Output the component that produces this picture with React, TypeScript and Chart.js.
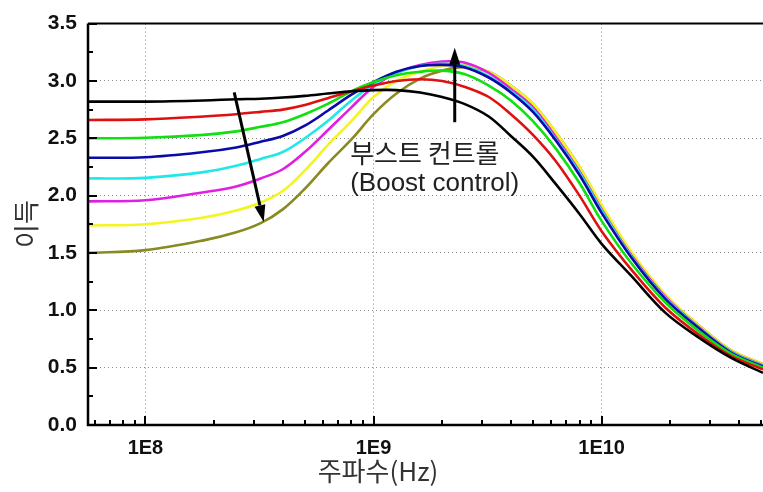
import React, { useEffect, useRef } from 'react';
import { Chart, registerables } from 'chart.js';

Chart.register(...registerables);

// Frequency points (Hz)
const frequencies = [
  5.6e7, 1e8, 1.8e8, 2.5e8, 3.2e8, 4e8, 5e8, 6.3e8, 8e8, 1e9, 1.26e9, 1.6e9, 2e9, 2.5e9,
  3.2e9, 4e9, 5e9, 6.3e9, 8e9, 1e10, 1.35e10, 1.9e10, 2.7e10, 3.7e10, 5.1e10,
];

// Gain curves (one per boost setting)
const gainBlack = [2.82, 2.82, 2.83, 2.84, 2.845, 2.855, 2.87, 2.89, 2.91, 2.92, 2.92, 2.9, 2.86, 2.8, 2.69, 2.52, 2.34, 2.1, 1.84, 1.58, 1.3, 0.98, 0.755, 0.585, 0.455];
const gainRed = [2.66, 2.665, 2.69, 2.71, 2.73, 2.75, 2.79, 2.85, 2.91, 2.96, 3.0, 3.015, 3.0, 2.95, 2.86, 2.71, 2.53, 2.3, 2.0, 1.69, 1.355, 1.025, 0.78, 0.6, 0.485];
const gainGreen = [2.5, 2.505, 2.53, 2.56, 2.6, 2.64, 2.71, 2.8, 2.91, 2.99, 3.05, 3.08, 3.09, 3.06, 2.96, 2.83, 2.65, 2.41, 2.11, 1.78, 1.41, 1.07, 0.81, 0.62, 0.5];
const gainBlue = [2.33, 2.335, 2.38, 2.42, 2.47, 2.52, 2.61, 2.74, 2.88, 2.99, 3.08, 3.13, 3.14, 3.12, 3.03, 2.9, 2.73, 2.48, 2.18, 1.85, 1.46, 1.1, 0.835, 0.63, 0.51];
const gainCyan = [2.15, 2.155, 2.205, 2.26, 2.32, 2.38, 2.5, 2.65, 2.83, 2.97, 3.07, 3.13, 3.15, 3.13, 3.04, 2.91, 2.75, 2.49, 2.2, 1.87, 1.47, 1.11, 0.84, 0.635, 0.515];
const gainMagenta = [1.95, 1.96, 2.03, 2.08, 2.15, 2.23, 2.38, 2.57, 2.77, 2.95, 3.07, 3.14, 3.17, 3.16, 3.07, 2.93, 2.77, 2.51, 2.21, 1.88, 1.48, 1.12, 0.845, 0.64, 0.52];
const gainYellow = [1.74, 1.75, 1.81, 1.87, 1.94, 2.04, 2.22, 2.44, 2.65, 2.86, 3.0, 3.08, 3.13, 3.14, 3.08, 2.96, 2.8, 2.55, 2.25, 1.92, 1.51, 1.14, 0.86, 0.65, 0.53];
const gainOlive = [1.5, 1.525, 1.61, 1.68, 1.76, 1.88, 2.06, 2.28, 2.49, 2.71, 2.89, 3.02, 3.09, 3.12, 3.08, 2.96, 2.8, 2.55, 2.25, 1.91, 1.5, 1.13, 0.86, 0.65, 0.53];

const seriesGains = [gainBlack, gainRed, gainGreen, gainBlue, gainCyan, gainMagenta, gainYellow, gainOlive];
const seriesColors = ['#000000', '#e01010', '#10e010', '#0a0aa8', '#20e8e8', '#e020e0', '#f4f420', '#8a8a22'];

// Axis ticks
const xTickValues = [1e8, 1e9, 1e10];
const xTickLabels = ['1E8', '1E9', '1E10'];
const xMin = 5.6e7;
const xMax = 5.1e10;
const yMin = 0;
const yMax = 3.5;
const yStep = 0.5;

// Annotations (data coordinates)
const arrowDown = { from: [2.45e8, 2.9], to: [3.3e8, 1.77] };
const arrowUp = { from: [2.27e9, 2.64], to: [2.27e9, 3.29] };
const annotationLines = ['부스트 컨트롤', '(Boost control)'];
const annotationPos = [[7.9e8, 2.37], [7.9e8, 2.1]];

const xTitle = '주파수(Hz)';
const yTitle = '이득';

const KFONT = '"Noto Sans CJK KR", "Noto Sans", sans-serif';
const NFONT = '"Liberation Sans", Arial, sans-serif';

const decorPlugin = {
  id: 'decor',
  afterDatasetsDraw(chart: any) {
    const ctx = chart.ctx as CanvasRenderingContext2D;
    const area = chart.chartArea;
    const xs = chart.scales.x;
    const ys = chart.scales.y;
    ctx.save();

    // inward ticks
    ctx.strokeStyle = '#000';
    ctx.lineWidth = 2;
    for (let v = yMin; v <= yMax + 1e-9; v += yStep / 2) {
      const major = Math.abs(v / yStep - Math.round(v / yStep)) < 1e-6;
      const len = major ? 9 : 5;
      const py = Math.round(ys.getPixelForValue(v));
      ctx.beginPath();
      ctx.moveTo(area.left, py);
      ctx.lineTo(area.left + len, py);
      ctx.stroke();
    }
    for (let e = 7; e <= 10; e++) {
      for (let m = 1; m <= 9; m++) {
        const v = m * Math.pow(10, e);
        if (v < xMin || v > xMax) continue;
        const len = m === 1 ? 9 : 5;
        const px = Math.round(xs.getPixelForValue(v));
        ctx.beginPath();
        ctx.moveTo(px, area.bottom);
        ctx.lineTo(px, area.bottom - len);
        ctx.stroke();
      }
    }

    // frame
    ctx.lineWidth = 2.5;
    ctx.beginPath();
    ctx.moveTo(area.left, area.top);
    ctx.lineTo(area.left, area.bottom);
    ctx.lineTo(area.right, area.bottom);
    ctx.stroke();
    ctx.lineWidth = 2;
    ctx.beginPath();
    ctx.moveTo(area.left, area.top);
    ctx.lineTo(area.right, area.top);
    ctx.stroke();

    // arrows
    const drawArrow = (a: { from: number[]; to: number[] }) => {
      const x1 = xs.getPixelForValue(a.from[0]);
      const y1 = ys.getPixelForValue(a.from[1]);
      const x2 = xs.getPixelForValue(a.to[0]);
      const y2 = ys.getPixelForValue(a.to[1]);
      const ang = Math.atan2(y2 - y1, x2 - x1);
      const hl = 17;
      const hw = 5.5;
      const bx = x2 - hl * Math.cos(ang);
      const by = y2 - hl * Math.sin(ang);
      ctx.strokeStyle = '#000';
      ctx.fillStyle = '#000';
      ctx.lineWidth = 3;
      ctx.beginPath();
      ctx.moveTo(x1, y1);
      ctx.lineTo(bx, by);
      ctx.stroke();
      ctx.beginPath();
      ctx.moveTo(x2, y2);
      ctx.lineTo(bx + hw * Math.sin(ang), by - hw * Math.cos(ang));
      ctx.lineTo(bx - hw * Math.sin(ang), by + hw * Math.cos(ang));
      ctx.closePath();
      ctx.fill();
    };
    drawArrow(arrowDown);
    drawArrow(arrowUp);

    // annotation text
    ctx.fillStyle = '#222';
    ctx.textAlign = 'left';
    ctx.textBaseline = 'middle';
    annotationLines.forEach((t, i) => {
      const px = xs.getPixelForValue(annotationPos[i][0]);
      const py = ys.getPixelForValue(annotationPos[i][1]);
      ctx.font = i === 0 ? `26px ${KFONT}` : `26px ${NFONT}`;
      ctx.fillText(t, px, py);
    });

    // axis titles
    ctx.fillStyle = '#333';
    ctx.textAlign = 'center';
    ctx.textBaseline = 'middle';
    ctx.font = `26px ${KFONT}`;
    ctx.fillText(xTitle, 378, 471);
    ctx.save();
    ctx.translate(26, 224);
    ctx.rotate(-Math.PI / 2);
    ctx.fillText(yTitle, 0, 0);
    ctx.restore();

    ctx.restore();
  },
};

export default function App() {
  const ref = useRef<HTMLCanvasElement>(null);
  useEffect(() => {
    document.body.style.margin = '0';
    const datasets = seriesGains.map((g, i) => ({
      label: `s${i}`,
      data: frequencies.map((f, j) => ({ x: f, y: g[j] })),
      borderColor: seriesColors[i],
      backgroundColor: seriesColors[i],
      borderWidth: 2.6,
      pointRadius: 0,
      tension: 0.35,
      fill: false,
    }));
    const chart = new Chart(ref.current!, {
      type: 'line',
      data: { datasets },
      options: {
        animation: false,
        responsive: false,
        devicePixelRatio: 1,
        layout: { padding: { top: 16, right: 0, left: 0, bottom: 0 } },
        plugins: { legend: { display: false }, tooltip: { enabled: false } },
        scales: {
          x: {
            type: 'logarithmic',
            min: xMin,
            max: xMax,
            afterBuildTicks: (s: any) => {
              s.ticks = xTickValues.map((v) => ({ value: v, major: true }));
            },
            afterFit: (s: any) => {
              s.height = 67;
            },
            ticks: {
              autoSkip: false,
              maxRotation: 0,
              padding: 11,
              color: '#111',
              font: { family: NFONT, size: 20, weight: 'bold' },
              callback: (v: any) => {
                const i = xTickValues.indexOf(Number(v));
                return i >= 0 ? xTickLabels[i] : '';
              },
            },
            grid: { color: '#8a8a8a', lineWidth: 1, drawTicks: false },
            border: { display: false, dash: [1, 3] },
          },
          y: {
            type: 'linear',
            min: yMin,
            max: yMax,
            afterFit: (s: any) => {
              s.width = 88;
            },
            ticks: {
              stepSize: yStep,
              padding: 11,
              color: '#111',
              font: { family: NFONT, size: 21, weight: 'bold' },
              callback: (v: any) => Number(v).toFixed(1),
            },
            grid: {
              color: (c: any) => (c.tick && (c.tick.value === yMin || c.tick.value === yMax) ? 'rgba(0,0,0,0)' : '#8a8a8a'),
              lineWidth: 1,
              drawTicks: false,
            },
            border: { display: false, dash: [1, 3] },
          },
        },
      },
      plugins: [decorPlugin],
    });
    return () => chart.destroy();
  }, []);
  return (
    <div style={{ width: 763, height: 492, background: '#fff' }}>
      <canvas ref={ref} width={763} height={492} style={{ display: 'block' }} />
    </div>
  );
}
